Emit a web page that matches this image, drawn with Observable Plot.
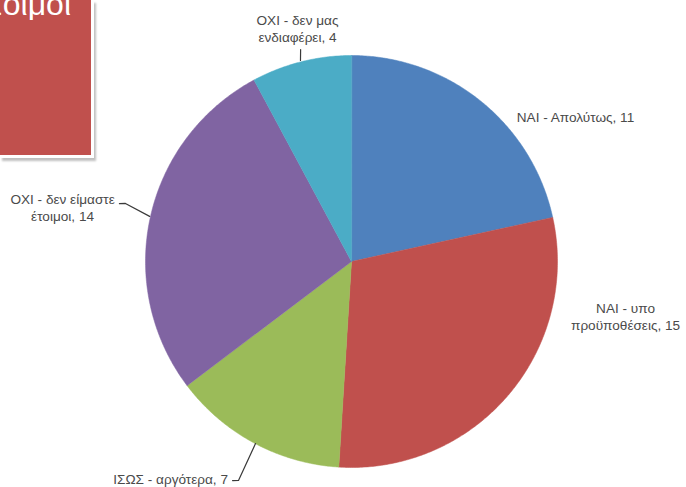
<!DOCTYPE html>
<html><head><meta charset="utf-8">
<script src="https://cdn.jsdelivr.net/npm/d3@7"></script>
<script src="https://cdn.jsdelivr.net/npm/@observablehq/plot@0.6"></script>
<style>
body{margin:0;background:#fff;}
#wrap{position:relative;width:686px;height:487px;overflow:hidden;}
#box{position:absolute;left:0;top:0;width:91px;height:155px;background:#C0504D;border-right:3px solid #fff;border-bottom:3px solid #fff;box-shadow:2px 3px 2px rgba(0,0,0,0.25);z-index:2;}
#boxtext{position:absolute;left:0;top:-12px;width:71px;overflow:hidden;display:flex;justify-content:flex-end;white-space:nowrap;color:#fff;font-family:"Liberation Sans",Arial,sans-serif;font-size:32px;line-height:32px;}
</style></head><body>
<div id="wrap"><div id="box"><div id="boxtext">έτοιμοι</div></div><div id="chart"></div></div>
<script>
// ---- data ----
const categories = ["ΝΑΙ - Απολύτως", "ΝΑΙ - υπο\nπροϋποθέσεις", "ΙΣΩΣ - αργότερα", "ΟΧΙ - δεν είμαστε\nέτοιμοι", "ΟΧΙ - δεν μας\nενδιαφέρει"];
const values = [11, 15, 7, 14, 4];
const colors = ["#4F81BD", "#C0504D", "#9BBB59", "#8064A2", "#4BACC6"];

// ---- layout (polar: degrees clockwise from 12 o'clock, radius in pie radii) ----
const labelPolar = [[57.1, 1.295], [101.35, 1.357], [219.8, 1.372], [280.6, 1.427], [-13.05, 1.161]];
const leaderPolar = [
  null,
  null,
  [[208.5, 1.21], [207.3, 1.196], [207.8, 0.999]],
  [[-76.0, 1.161], [-75.6, 1.133], [-77.4, 1.004]],
  [[-13.5, 1.058], [-14.24, 1.007]]
];

const W = 686, H = 487, R = 206, CX = 351, CY = 261;
const rad = Math.PI / 180;
const polar = (deg, r) => ({x: Math.sin(deg * rad) * r, y: Math.cos(deg * rad) * r});

const arcs = d3.pie().sort(null).value(d => d)(values);
const piePts = [];
arcs.forEach((a, i) => {
  const cat = categories[i];
  piePts.push({cat, x: 0, y: 0});
  const n = Math.max(2, Math.ceil((a.endAngle - a.startAngle) / (0.5 * rad)));
  for (let k = 0; k <= n; k++) {
    const t = a.startAngle + (a.endAngle - a.startAngle) * k / n;
    piePts.push({cat, x: Math.sin(t), y: Math.cos(t)});
  }
});

const labels = categories.map((c, i) => {
  const p = polar(labelPolar[i][0], labelPolar[i][1]);
  return {text: `${c}, ${values[i]}`, x: p.x, y: p.y};
});

const leaderPts = [];
leaderPolar.forEach((pts, i) => {
  if (!pts) return;
  pts.forEach(([d, r]) => { const p = polar(d, r); leaderPts.push({k: i, x: p.x, y: p.y}); });
});

const chart = Plot.plot({
  width: W, height: H,
  marginTop: 0, marginRight: 0, marginBottom: 0, marginLeft: 0,
  x: {domain: [-CX / R, (W - CX) / R], axis: null},
  y: {domain: [-(H - CY) / R, CY / R], axis: null},
  color: {domain: categories, range: colors},
  style: {background: "transparent"},
  marks: [
    Plot.line(piePts, {x: "x", y: "y", z: "cat", fill: "cat", stroke: "cat", strokeWidth: 0.5, curve: "linear-closed"}),
    Plot.line(leaderPts, {x: "x", y: "y", z: "k", stroke: "#3a3a3a", strokeWidth: 1.2}),
    Plot.text(labels, {x: "x", y: "y", text: "text", fill: "#4a4a4a", fontSize: 13.6, lineHeight: 1.25, fontFamily: "Liberation Sans, Arial, sans-serif", textAnchor: "middle"})
  ]
});
document.getElementById("chart").appendChild(chart);
</script>
</body></html>
